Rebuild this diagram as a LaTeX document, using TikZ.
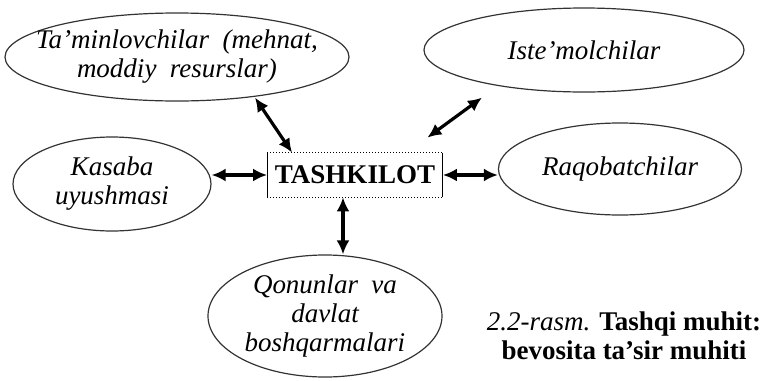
\documentclass[tikz,border=0pt]{standalone}
\usepackage{fontspec}
\setmainfont{Liberation Serif}
\usetikzlibrary{shapes.geometric,arrows.meta}
\tikzset{
  ell/.style={ellipse, draw=black!80, line width=0.6pt, inner sep=0pt},
  etxt/.style={font=\fontsize{13.5}{14.5}\selectfont\itshape, align=center, inner sep=0pt},
  dbl/.style={line width=1.6pt, {Latex[length=7pt,width=6.5pt]}-{Latex[length=7pt,width=6.5pt]}},
}
\begin{document}
\begin{tikzpicture}[x=0.5pt,y=-0.5pt]
\useasboundingbox (0,0) rectangle (768,381);
\node[ell, minimum width=172pt, minimum height=44pt,
  label={[etxt]center:{Ta'minlovchilar \ (mehnat,\\moddiy \ resurslar)}}] (tam) at (177,57) {};
\node[ell, minimum width=160pt, minimum height=42pt,
  label={[etxt]center:{Iste'molchilar}}] (ist) at (584,50) {};
\node[ell, minimum width=99pt, minimum height=47pt,
  label={[etxt]center:{Kasaba\\uyushmasi}}] (kas) at (112,184) {};
\node[ell, minimum width=121.5pt, minimum height=46pt,
  label={[etxt]center:{Raqobatchilar}}] (raq) at (620,169) {};
\node[ell, minimum width=117pt, minimum height=61pt,
  label={[etxt]center:{Qonunlar \ va\\davlat\\boshqarmalari}}] (qon) at (325,316) {};
\node[minimum width=87.5pt, minimum height=22pt, inner sep=0pt,
  font=\fontsize{13.5}{14.5}\selectfont\bfseries] (box) at (355,175) {TASHKILOT};
\draw[line width=0.5pt] (box.north west) -- (box.south west)
  (box.north east) -- (box.south east);
\draw[line width=0.5pt, densely dotted] (box.north west) -- (box.north east)
  (box.south west) -- (box.south east);
\draw[dbl] ([xshift=39pt,yshift=2pt]tam.south) -- ([xshift=12.5pt]box.north west);
\draw[dbl] ([xshift=-51pt,yshift=-2.5pt]ist.south) -- ([xshift=-7.75pt,yshift=7.5pt]box.north east);
\draw[dbl] (box.west -| kas.east) -- (box.west);
\draw[dbl] (box.east) -- (box.east -| raq.west);
\draw[dbl] ([xshift=-6pt]box.south) -- ([xshift=-6pt]box.south |- qon.north);
\node[align=center, inner sep=0pt, font=\fontsize{13.5}{14.5}\selectfont] (cap) at (624,336)
  {{\itshape 2.2-rasm.} \textbf{Tashqi muhit:}\\\textbf{bevosita ta'sir muhiti}};
\end{tikzpicture}
\end{document}
